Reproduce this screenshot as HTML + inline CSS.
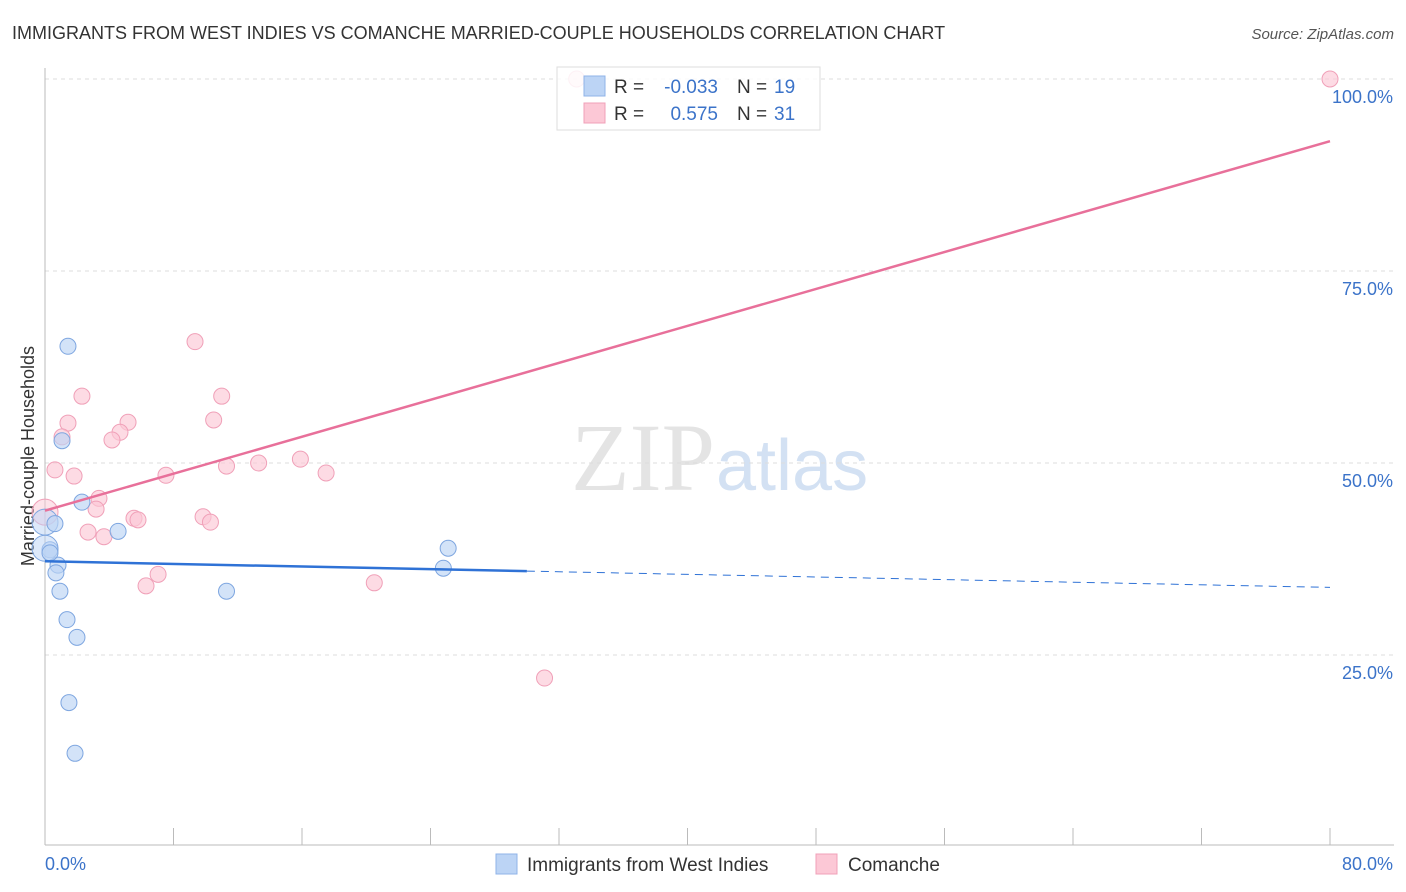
<!DOCTYPE html>
<html><head><meta charset="utf-8"><style>
body{margin:0;background:#fff;font-family:"Liberation Sans",sans-serif;}
</style></head><body>
<svg id="c" width="1406" height="892" style="display:block">
<text x="12" y="39" font-size="18" fill="#333">IMMIGRANTS FROM WEST INDIES VS COMANCHE MARRIED-COUPLE HOUSEHOLDS CORRELATION CHART</text>
<text x="1394" y="39" font-size="15" fill="#555" font-style="italic" text-anchor="end">Source: ZipAtlas.com</text>
<text x="715" y="490" font-size="96" fill="#e4e4e4" text-anchor="end" font-family="Liberation Serif,serif">ZIP</text>
<text x="716" y="490" font-size="72" fill="#d3e1f3">atlas</text>
<text transform="translate(34,456) rotate(-90)" font-size="18" fill="#333" text-anchor="middle">Married-couple Households</text>
<g id="grid"></g><g id="marks"></g>
<g>
<rect x="557" y="67" width="263" height="63" fill="#fff" fill-opacity="0.85" stroke="#ddd"/>
<rect x="584" y="76" width="21" height="20" fill="#bcd4f5" stroke="#8fb3e8"/>
<rect x="584" y="103" width="21" height="20" fill="#fcc8d6" stroke="#f0a0b8"/>
<text x="614" y="93" font-size="19" fill="#333">R =</text>
<text x="718" y="93" font-size="19" fill="#3b73c9" text-anchor="end">-0.033</text>
<text x="737" y="93" font-size="19" fill="#333">N =</text>
<text x="774" y="93" font-size="19" fill="#3b73c9">19</text>
<text x="614" y="120" font-size="19" fill="#333">R =</text>
<text x="718" y="120" font-size="19" fill="#3b73c9" text-anchor="end">0.575</text>
<text x="737" y="120" font-size="19" fill="#333">N =</text>
<text x="774" y="120" font-size="19" fill="#3b73c9">31</text>
</g>
<g>
<rect x="496" y="854" width="21" height="20" fill="#bcd4f5" stroke="#8fb3e8"/>
<text x="527" y="871" font-size="19" fill="#333">Immigrants from West Indies</text>
<rect x="816" y="854" width="21" height="20" fill="#fcc8d6" stroke="#f0a0b8"/>
<text x="848" y="871" font-size="19" fill="#333">Comanche</text>
</g>
</svg>
<script>
const yTicks=[25,50,75,100];
const yTickLabels=["25.0%","50.0%","75.0%","100.0%"];
const blueX=[1.43,1.06,2.30,4.55,0,0.62,0.31,0,0.81,0.68,0.93,1.37,1.99,1.49,1.87,25.1,24.8,11.3,0.31];
const blueY=[65.2,52.9,44.9,41.1,42.3,42.1,38.7,38.9,36.7,35.7,33.3,29.6,27.3,18.8,12.2,38.9,36.3,33.3,38.3];
const pinkX=[33.1,80,9.34,2.30,11.0,1.43,5.17,10.5,1.06,4.67,4.17,0.62,1.81,7.53,11.3,13.3,15.9,17.5,3.36,3.18,0,2.68,3.67,5.54,5.79,9.84,10.3,7.04,6.29,20.5,31.1];
const pinkY=[100,100,65.8,58.7,58.7,55.2,55.3,55.6,53.4,54.0,53.0,49.1,48.3,48.4,49.6,50.0,50.5,48.7,45.4,44.0,43.6,41.0,40.4,42.8,42.6,43.0,42.3,35.5,34.0,34.4,22.0];
const blueLine=[37.2,33.8], blueSolidEnd=30.0;
const pinkLine=[43.8,91.9];
const X=v=>45+v*16.0625, Y=v=>847-v*7.68;
const NS="http://www.w3.org/2000/svg";
function mk(t,a,p){const e=document.createElementNS(NS,t);for(const k in a)e.setAttribute(k,a[k]);p.appendChild(e);return e;}
const g=document.getElementById('grid'), m=document.getElementById('marks');
yTicks.forEach((t,i)=>{
 const l=mk('line',{x1:45,x2:1394,y1:Y(t),y2:Y(t),stroke:'#ddd','stroke-dasharray':'4,4'},g);
 
 
 const tx=mk('text',{x:1393,y:Y(t)+24,'font-size':18,fill:'#3b73c9','text-anchor':'end'},g);
 tx.textContent=yTickLabels[i];
 
 
});
const ax=mk('line',{x1:45,x2:45,y1:68,y2:845,stroke:'#bbb'},g);


const bx=mk('line',{x1:45,x2:1394,y1:845,y2:845,stroke:'#bbb'},g);


for(let i=0;i<=10;i++){const t=mk('line',{x1:X(i*8),x2:X(i*8),y1:828,y2:845,stroke:'#bbb'},g);
 
 }
[["0.0%",45,'start'],["80.0%",1393,'end']].forEach(a=>{const t=mk('text',{x:a[1],y:870,'font-size':18,fill:'#3b73c9','text-anchor':a[2]},g);t.textContent=a[0];
 
 });
function pts(xs,ys,fill,stroke,name){xs.forEach((x,i)=>{const big=(x===0);const c=mk('circle',{cx:X(x),cy:Y(ys[i]),r:big?13:8,fill:fill,'fill-opacity':big?0.5:0.65,stroke:stroke,'stroke-width':1},m);
 
 });}
pts(pinkX,pinkY,'#fcc8d6','#f0a0b8','comanche-point');
pts(blueX,blueY,'#bcd4f5','#7ea6e0','west-indies-point');
const by=x=>blueLine[0]+(blueLine[1]-blueLine[0])*x/80;
const l1=mk('line',{x1:X(0),y1:Y(by(0)),x2:X(blueSolidEnd),y2:Y(by(blueSolidEnd)),stroke:'#2f72d6','stroke-width':2.5},m);


const l2=mk('line',{x1:X(blueSolidEnd),y1:Y(by(blueSolidEnd)),x2:X(80),y2:Y(by(80)),stroke:'#2f72d6','stroke-width':1,'stroke-dasharray':'8,6'},m);


const l3=mk('line',{x1:X(0),y1:Y(pinkLine[0]),x2:X(80),y2:Y(pinkLine[1]),stroke:'#e8709a','stroke-width':2.5},m);


</script>
</body></html>
